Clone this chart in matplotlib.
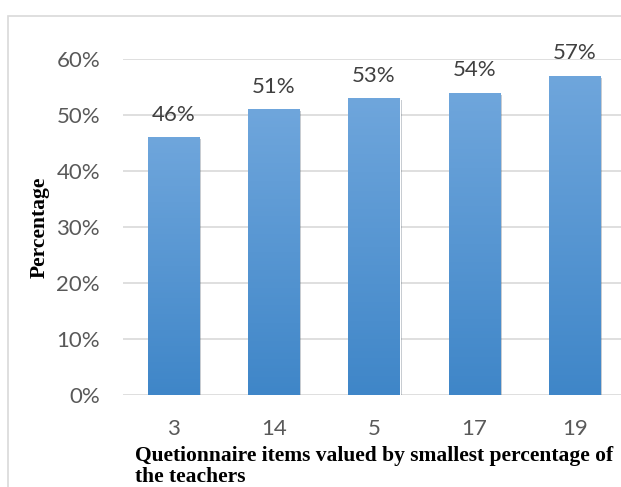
import numpy as np
import matplotlib
matplotlib.use("Agg")
import matplotlib.pyplot as plt
from matplotlib.patches import Rectangle
from matplotlib.colors import LinearSegmentedColormap
import matplotlib.patheffects as pe

items = ["3", "14", "5", "17", "19"]
values = [0.46, 0.51, 0.53, 0.54, 0.57]
yticks = [0, 0.1, 0.2, 0.3, 0.4, 0.5, 0.6]

fig = plt.figure(figsize=(6.21, 4.87), dpi=100)
ax = fig.add_axes([123 / 621, 1 - 395 / 487, 502 / 621, 336 / 487])

# light frame around the chart
fig.patches.append(Rectangle((8 / 621, -0.1), 1.2, 1 - 16 / 487 + 0.1,
                             transform=fig.transFigure, fill=False,
                             edgecolor="#d9d9d9", lw=1.2, zorder=0))

x = np.arange(len(items))
bars = ax.bar(x, values, width=0.51, color="#5b9bd5", edgecolor="white",
              lw=0.8, zorder=3,
              path_effects=[pe.SimplePatchShadow(offset=(1.5, -1.5), alpha=0.25),
                            pe.Normal()])

# vertical gradient inside each bar
cmap = LinearSegmentedColormap.from_list("g", ["#3f86c8", "#6fa6dc"])
grad = np.linspace(0, 1, 256).reshape(-1, 1)
for b in bars:
    x0, y0 = b.get_x(), b.get_y()
    w, h = b.get_width(), b.get_height()
    im = ax.imshow(grad, cmap=cmap, origin="lower", aspect="auto",
                   extent=(x0, x0 + w, y0, y0 + h), zorder=3.5)
    im.set_clip_path(b)

for xi, v in zip(x, values):
    ax.text(xi, v + 0.022, f"{round(v * 100)}%", ha="center", va="bottom",
            fontsize=16, color="#404040", family="Lato", clip_on=False)

ax.set_xlim(-0.5, len(items) - 0.5)
ax.set_ylim(0, 0.6)
ax.set_yticks(yticks)
ax.set_yticklabels([f"{round(t * 100)}%" for t in yticks])
ax.set_xticks(x)
ax.set_xticklabels(items)
for lab in ax.get_xticklabels() + ax.get_yticklabels():
    lab.set_family("Lato")
    lab.set_fontsize(16)
    lab.set_color("#595959")
ax.tick_params(length=0)
ax.tick_params(axis="y", pad=16.5)
ax.tick_params(axis="x", pad=17)
ax.grid(axis="y", color="#d9d9d9", lw=1.2, zorder=0)
for s in ax.spines.values():
    s.set_visible(False)

fig.text(40 / 621, 1 - 227 / 487, "Percentage", rotation=90, ha="center",
         va="center", fontsize=15.5, fontweight="bold", family="Liberation Serif")
fig.text(135 / 621, 1 - 446 / 487,
         "Quetionnaire items valued by smallest percentage of\nthe teachers",
         ha="left", va="top", fontsize=15.5, fontweight="bold",
         family="Liberation Serif", linespacing=1.1)

fig.savefig("out.png", dpi=100)
